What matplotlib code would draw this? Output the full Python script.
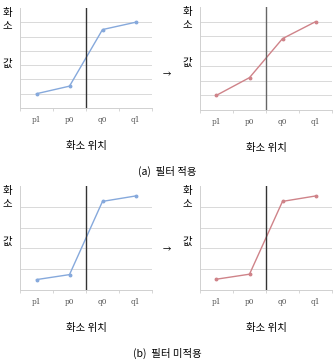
import numpy as np
import matplotlib.pyplot as plt

plt.rcParams['font.family'] = ['Noto Sans CJK KR', 'DejaVu Sans']

# pixel position data
cats = ['p1', 'p0', 'q0', 'q1']
a_before = [1.0, 1.53, 5.49, 6.0]
a_after = [1.0, 2.2, 4.85, 6.0]
b_before = [0.5, 0.74, 4.26, 4.52]
b_after = [0.52, 0.76, 4.26, 4.52]

W, H = 335, 362
fig = plt.figure(figsize=(W / 100, H / 100), dpi=100)

blue = '#86a9dc'
red = '#cf8389'


def panel(x0, y0, x1, y1, vals, color, ymax, edge_color):
    ax = fig.add_axes([x0 / W, 1 - y1 / H, (x1 - x0) / W, (y1 - y0) / H])
    xs = np.arange(len(cats)) + 0.5
    ax.plot(xs, vals, color=color, lw=1.0, marker='o', ms=1.8)
    ax.axvline(2, color=edge_color, lw=1.0)
    ax.set_xlim(0, 4)
    ax.set_ylim(0, ymax)
    for g in range(1, ymax):
        ax.axhline(g, color='#d9d9d9', lw=0.7, zorder=0)
    ax.set_xticks([0, 1, 2, 3, 4])
    ax.set_xticklabels([])
    ax.set_xticks(xs, minor=True)
    ax.set_xticklabels(cats, minor=True, fontsize=5.3, color='#555555',
                       family='DejaVu Serif')
    ax.tick_params(axis='x', which='major', length=2, color='#d0d0d0', width=0.6)
    ax.tick_params(axis='x', which='minor', length=0, pad=5.5)
    ax.set_yticks([])
    for s in ['top', 'right']:
        ax.spines[s].set_visible(False)
    for s in ['left', 'bottom']:
        ax.spines[s].set_color('#d0d0d0')
        ax.spines[s].set_linewidth(0.7)
    cx = (x0 + x1) / 2
    fig.text(cx / W, 1 - (y1 + 38) / H, '화소 위치', ha='center', va='center', fontsize=7.5)
    lx = x0 - 13
    fig.text(lx / W, 1 - (y0 + 5) / H, '화', ha='center', va='center', fontsize=7.5)
    fig.text(lx / W, 1 - (y0 + 18) / H, '소', ha='center', va='center', fontsize=7.5)
    fig.text(lx / W, 1 - (y0 + 56) / H, '값', ha='center', va='center', fontsize=7.5)
    return ax


panel(20, 8, 152, 108, a_before, blue, 7, '#333333')
panel(200, 7, 332, 110, a_after, red, 7, '#666666')
panel(20, 186, 152, 290, b_before, blue, 5, '#333333')
panel(200, 186, 332, 290, b_after, red, 5, '#333333')

fig.text(167 / W, 1 - 75 / H, '→', ha='center', va='center', fontsize=6)
fig.text(167 / W, 1 - 250 / H, '→', ha='center', va='center', fontsize=6)
fig.text(167 / W, 1 - 171 / H, '(a)  필터 적용', ha='center', va='center', fontsize=7.5)
fig.text(167 / W, 1 - 353 / H, '(b)  필터 미적용', ha='center', va='center', fontsize=7.5)

plt.savefig('out.png', dpi=100)
